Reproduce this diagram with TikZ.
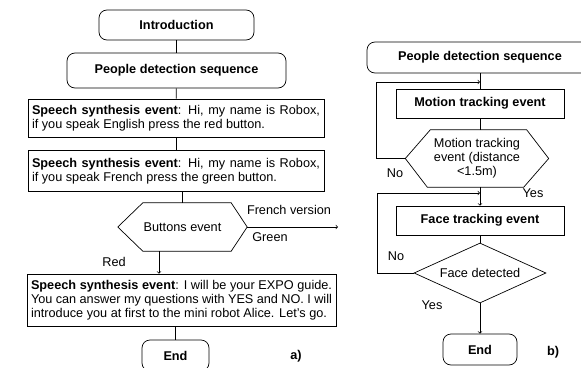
\documentclass[tikz,border=0pt]{standalone}
\usepackage{fontspec}
\setmainfont{Liberation Sans}
\usetikzlibrary{shapes.geometric}

\begin{document}
\begin{tikzpicture}[x=1pt,y=-1pt]

    % Define some common styles
    \tikzset{
        every node/.style={font=\fontsize{12.7}{14}\selectfont},
        termbox/.style={draw, line width=0.7pt, rounded corners=8pt, font=\fontsize{12.7}{14}\selectfont\bfseries},
        eventbox/.style={draw, line width=0.7pt, font=\fontsize{12.7}{14}\selectfont\bfseries},
        saybox/.style={draw, line width=0.7pt, align=justify, inner sep=4pt},
        hexbox/.style={inner sep=0pt, align=center},
        askbox/.style={draw, line width=0.7pt, diamond, inner sep=0pt},
        flow/.style={line width=0.7pt},
        tag/.style={font=\fontsize{12.7}{14}\selectfont\bfseries}
    }

    \useasboundingbox (0,0) rectangle (581,367);

    % a) introduction sequence
    \node[termbox, minimum width=155pt, minimum height=30pt] (intro) at (176.5,25) {Introduction};
    \node[termbox, minimum width=219pt, minimum height=35pt] (pdA) at (176.5,70.5) {People detection sequence};

    \node[saybox, text width=288pt, minimum height=38pt] (sp1) at (176,118)
        {\textbf{Speech synthesis event}: Hi, my name is Robox,\linebreak if you speak English press the red button.};
    \node[saybox, text width=288pt, minimum height=41pt] (sp2) at (176,171)
        {\textbf{Speech synthesis event}: Hi, my name is Robox,\linebreak if you speak French press the green button.};

    % buttons event (hexagon)
    \node[hexbox, minimum width=129pt, minimum height=48pt] (btn) at (182.5,227) {Buttons event};
    \draw[flow] (btn.west) -- ([xshift=25pt]btn.north west) -- ([xshift=-16pt]btn.north east)
        -- (btn.east) -- ([xshift=-16pt]btn.south east) -- ([xshift=25pt]btn.south west) -- cycle;

    \node[saybox, text width=301pt, minimum height=52pt] (sp3) at (181.5,300)
        {\textbf{Speech synthesis event}: I will be your EXPO guide.\linebreak You can answer my questions with YES and NO. I will\linebreak introduce you at first to the mini robot Alice. Let's go.};

    \node[termbox, minimum width=67pt, minimum height=31pt] (endA) at (175.5,355.5) {End};

    \node (french) at (289,210) {French version};
    \node (green) at (270,237) {Green};
    \node (red) at (114,262) {Red};
    \node[tag] (taga) at (296,356) {a)};

    \coordinate (frout) at (338,227);
    \coordinate (redout) at ([xshift=-23.5pt]btn.south);

    \draw[flow] (intro) -- (pdA);
    \draw[flow] (pdA) -- (sp1);
    \draw[flow] (sp1) -- (sp2);
    \draw[flow] (sp2.south -| btn.north) -- (btn.north);
    \draw[flow,->] (btn.east) -- (frout);
    \draw[flow,->] (redout) -- (redout |- sp3.north);
    \draw[flow] (endA.north |- sp3.south) -- (endA.north);

    % b) people detection sequence
    \node[termbox, minimum width=226pt, minimum height=31pt] (pdB) at (480,57.5) {People detection sequence};
    \node[eventbox, minimum width=168pt, minimum height=29pt] (motion) at (480,103.5) {Motion tracking event};

    \node[hexbox, minimum width=143pt, minimum height=57pt] (mhex) at (477,158.5)
        {Motion tracking\\event (distance\\<1.5m)};
    \draw[flow] (mhex.west) -- ([xshift=25pt]mhex.north west) -- ([xshift=-22pt]mhex.north east)
        -- (mhex.east) -- ([xshift=-25pt]mhex.south east) -- ([xshift=22pt]mhex.south west) -- cycle;

    \node[eventbox, minimum width=168pt, minimum height=29pt] (face) at (480,220.5) {Face tracking event};
    \node[askbox, aspect=2.2, minimum width=132pt, minimum height=60pt] (fdia) at (480,273) {Face detected};
    \node[termbox, minimum width=74pt, minimum height=31pt] (endB) at (480,349.5) {End};

    \node (no1) at (395,173) {No};
    \node (yes1) at (533,193) {Yes};
    \node (no2) at (396,256) {No};
    \node (yes2) at (432,305) {Yes};
    \node[tag] (tagb) at (553,352) {b)};

    \coordinate (backA) at (480,82);
    \coordinate (backB) at (480,193);

    \draw[flow] (pdB) -- (motion);
    \draw[flow] (motion.south) -- (motion.south |- mhex.north);
    \draw[flow,->] (mhex.west) -- ++(-29,0) |- (backA);
    \draw[flow,->] (mhex.south -| face.north) -- (face.north);
    \draw[flow,->] (fdia.west) -- ++(-36,0) |- (backB);
    \draw[flow] (face) -- (fdia);
    \draw[flow,->] (fdia) -- (endB);

\end{tikzpicture}
\end{document}
